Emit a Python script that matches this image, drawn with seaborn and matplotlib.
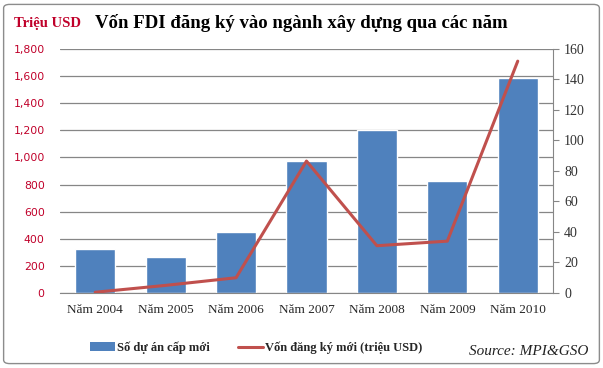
import numpy as np
import pandas as pd
import matplotlib
matplotlib.use("Agg")
import matplotlib.pyplot as plt
from matplotlib.patches import Patch, FancyBboxPatch
from matplotlib.lines import Line2D
import seaborn as sns

# ========== data ==========
years = ["Năm 2004", "Năm 2005", "Năm 2006", "Năm 2007", "Năm 2008", "Năm 2009", "Năm 2010"]
so_du_an = [324, 265, 452, 973, 1202, 826, 1585]      # bars, left axis
von_dang_ky = [0.5, 5, 10, 86.5, 31, 34, 152]          # line, right axis

bar_color = "#4F81BD"
line_color = "#C0504D"
grid_color = "#868686"
red_text = "#C0002A"

df = pd.DataFrame({"year": years, "projects": so_du_an, "capital": von_dang_ky})
df["pos"] = np.arange(len(df))

sns.set_style("white")
plt.rcParams["font.family"] = ["DejaVu Sans"]

fig = plt.figure(figsize=(6.03, 3.68), dpi=100)
ax = fig.add_axes([0.0995, 0.2038, 0.8175, 0.6632])

# ========== bars (left axis) ==========
sns.barplot(data=df, x="year", y="projects", color=bar_color, width=0.57,
            saturation=1, ax=ax, zorder=2)
ax.set_ylim(0, 1800)
ax.set_yticks(np.arange(0, 1801, 200))
ax.set_yticklabels([f"{v:,}" for v in range(0, 1801, 200)])
ax.yaxis.grid(True, color=grid_color, linewidth=0.9)
ax.set_axisbelow(True)
ax.set_xlim(-0.5, len(years) - 0.5)
ax.set_xlabel("")
ax.set_ylabel("")
for s in ["left", "top", "right"]:
    ax.spines[s].set_visible(False)
ax.spines["bottom"].set_color(grid_color)
ax.tick_params(axis="y", colors=red_text, labelsize=7.8, length=0, pad=11)
ax.tick_params(axis="x", length=0, pad=8)
for lab in ax.get_xticklabels():
    lab.set_fontfamily("Liberation Serif")
    lab.set_fontsize(9.5)

# ========== line (right axis) ==========
ax2 = ax.twinx()
sns.lineplot(data=df, x="pos", y="capital", color=line_color, linewidth=2.2,
             ax=ax2, zorder=3)
ax2.set_ylim(0, 160)
ax2.set_yticks(np.arange(0, 161, 20))
ax2.set_ylabel("")
for s in ["left", "top", "bottom"]:
    ax2.spines[s].set_visible(False)
ax2.spines["right"].set_color(grid_color)
ax2.tick_params(axis="y", colors="#333333", labelsize=10, length=4, direction="out", pad=4)
ax2.tick_params(axis="y", color=grid_color)
for lab in ax2.get_yticklabels():
    lab.set_fontfamily("Liberation Serif")
ax2.set_xlim(-0.5, len(years) - 0.5)

# ========== title ==========
fig.text(0.023, 0.937, "Triệu USD", color=red_text, fontsize=10.5, fontweight="bold",
         family="Liberation Serif", va="center")
fig.text(0.158, 0.937, "Vốn FDI đăng ký vào ngành xây dựng qua các năm", color="black",
         fontsize=13.5, fontweight="bold", family="Liberation Serif", va="center")

# ========== legend ==========
handles = [Patch(facecolor=bar_color, edgecolor="none"),
           Line2D([0], [0], color=line_color, linewidth=2.2)]
fig.legend(handles, ["Số dự án cấp mới", "Vốn đăng ký mới (triệu USD)"],
           loc="center", bbox_to_anchor=(0.425, 0.055), ncol=2, frameon=False,
           prop={"family": "Liberation Serif", "weight": "bold", "size": 9},
           handlelength=2.0, handletextpad=0.15, columnspacing=2.3)
fig.text(0.975, 0.045, "Source: MPI&GSO", fontsize=11, style="italic",
         family="Liberation Serif", ha="right", va="center", color="#222222")

# ========== chart border ==========
border = FancyBboxPatch((0.006, 0.012), 0.988, 0.976, boxstyle="round,pad=0,rounding_size=0.01",
                        transform=fig.transFigure, facecolor="none", edgecolor="#8C8C8C",
                        linewidth=1.0)
fig.patches.append(border)

fig.savefig("out.png", dpi=100)
plt.close(fig)
